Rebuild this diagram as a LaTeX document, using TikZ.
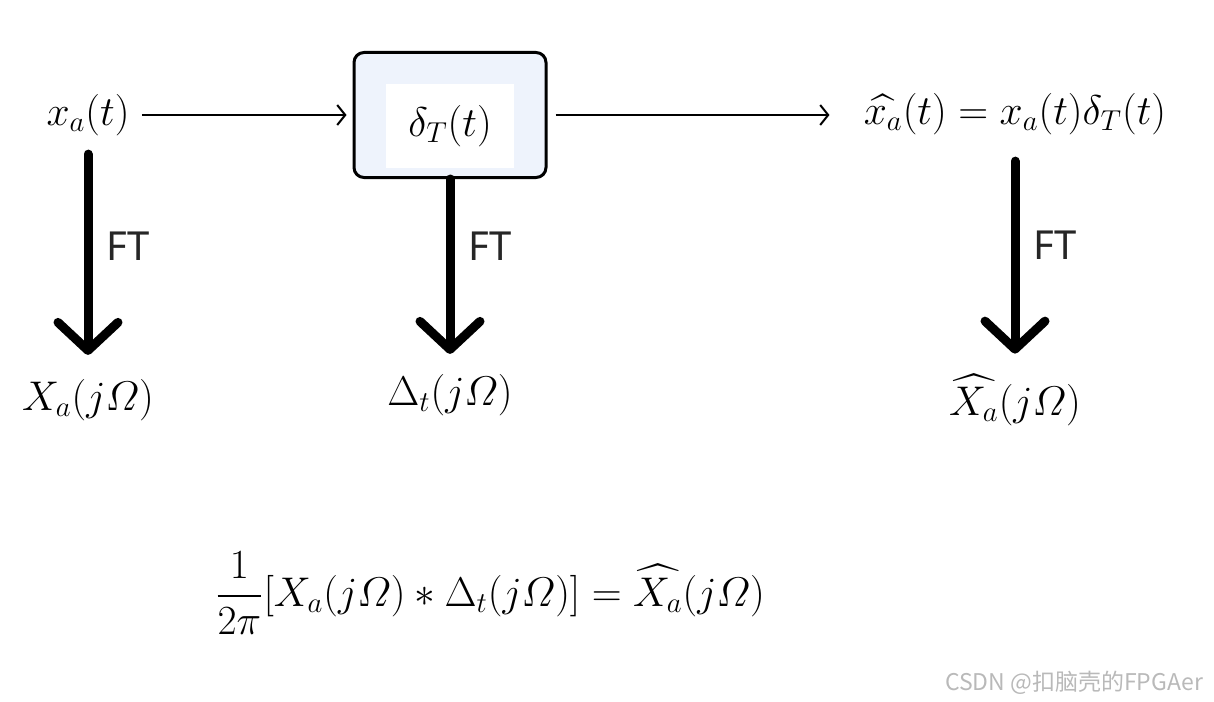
\documentclass[tikz,border=0pt]{standalone}
\usepackage{amsmath}
\usepackage{fontspec}
\newfontfamily\ftfont{Noto Sans}
\newfontfamily\cjkfont{Noto Sans CJK SC}
\usetikzlibrary{arrows.meta, positioning}
\definecolor{boxfill}{RGB}{238,243,252}

\begin{document}
\begin{tikzpicture}[
      x=0.5pt, y=-0.5pt,
      math/.style={font=\fontsize{21}{25}\selectfont, inner sep=2pt},
      sampbox/.style={rectangle, draw, line width=1.5pt, rounded corners=5pt, fill=boxfill, minimum width=96pt, minimum height=62.5pt},
      inbox/.style={rectangle, fill=white, minimum width=64pt, minimum height=42pt, inner sep=0pt, font=\fontsize{21}{25}\selectfont},
      sigarrow/.style={line width=1pt, -{Straight Barb[length=4pt, width=10pt]}},
      ftarrow/.style={line width=4.5pt, line cap=round, -{Straight Barb[length=14pt, width=30pt, line cap=round, line join=round]}},
      ftlabel/.style={font=\ftfont\fontsize{20}{24}\selectfont, text=black!85, inner sep=0pt}
      ]
      \useasboundingbox (0,0) rectangle (1214,701);

      % Top row
      \node[math] (xa) at (88,115) {$x_a(t)$};
      \node[sampbox] (sampler) at (450,115) {};
      \node[inbox] (delta) at ([yshift=-5.5pt]sampler.center) {$\delta_T(t)$};
      \node[math] (xs) at (1015,114) {$\widehat{x_a}(t) = x_a(t)\delta_T(t)$};

      % Transforms
      \node[math] (Xa) at (88,400) {$X_a(j\varOmega)$};
      \node[math] (Dt) at (450,395) {$\Delta_t(j\varOmega)$};
      \node[math] (Xs) at (1015,400) {$\widehat{X_a}(j\varOmega)$};

      % Convolution
      \node[math] (conv) at (490,593) {$\displaystyle\frac{1}{2\pi}[X_a(j\varOmega) * \Delta_t(j\varOmega)] = \widehat{X_a}(j\varOmega)$};

      \node[anchor=east, font=\cjkfont\fontsize{11.5}{14}\selectfont, text=gray!55] (mark) at (1210,683) {CSDN @扣脑壳的FPGAer};

      % Arrows
      \draw[sigarrow, shorten <=4pt, shorten >=3pt] (xa.east) -- (xa.east -| sampler.west);
      \draw[sigarrow, shorten <=4pt, shorten >=15pt] (sampler.east) -- (sampler.east -| xs.west);
      \draw[ftarrow, shorten <=7pt, shorten >=10pt] (xa) -- node[ftlabel, right=7pt, pos=0.45] {FT} (Xa);
      \draw[ftarrow, shorten >=8pt] (sampler) -- node[ftlabel, right=7pt, pos=0.35] {FT} (Dt);
      \draw[ftarrow, shorten <=11pt, shorten >=8pt] (xs) -- node[ftlabel, right=7pt, pos=0.46] {FT} (Xs);
    \end{tikzpicture}
\end{document}
